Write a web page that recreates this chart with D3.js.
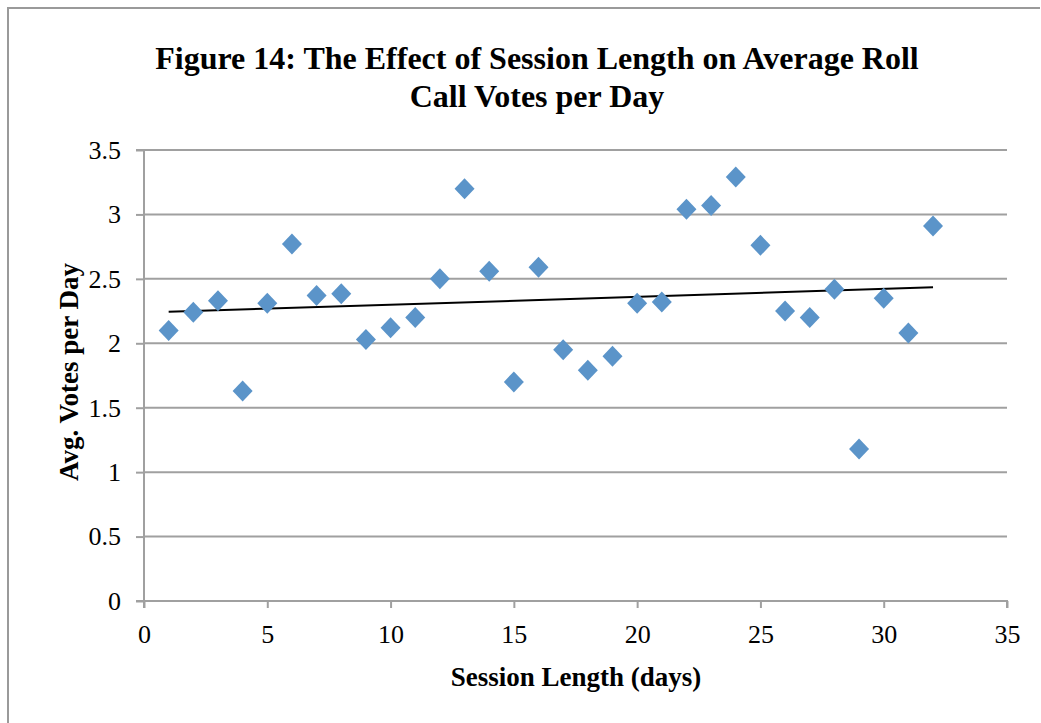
<!DOCTYPE html>
<html><head><meta charset="utf-8">
<script src="https://cdn.jsdelivr.net/npm/d3@7"></script>
<style>body{margin:0;background:#fff}svg{display:block}</style>
</head><body>
<script>
const sessionDays = [1,2,3,4,5,6,7,8,9,10,11,12,13,14,15,16,17,18,19,20,21,22,23,24,25,26,27,28,29,30,31,32];
const avgVotes = [2.10,2.24,2.33,1.63,2.31,2.77,2.37,2.385,2.03,2.12,2.20,2.50,3.20,2.56,1.70,2.59,1.95,1.79,1.90,2.31,2.32,3.04,3.07,3.29,2.76,2.25,2.20,2.42,1.18,2.35,2.08,2.91];
const xTicks = [0,5,10,15,20,25,30,35];
const yTicks = [0,0.5,1,1.5,2,2.5,3,3.5];
const titleLines = ["Figure 14: The Effect of Session Length on Average Roll","Call Votes per Day"];

const W=1041,H=723;
const svg=d3.select("body").append("svg").attr("width",W).attr("height",H);
svg.append("rect").attr("width",W).attr("height",H).attr("fill","#fff");
// outer border
svg.append("path").attr("d","M8,"+(H+2)+"V8H1040").attr("fill","none").attr("stroke","#9a9a9a").attr("stroke-width",2);

const L=144,R=1007,T=150,B=601;
const x=d3.scaleLinear().domain([0,35]).range([L,R]);
const y=d3.scaleLinear().domain([0,3.5]).range([B,T]);
const font="'Liberation Serif','Times New Roman',serif";

// gridlines
svg.append("g").selectAll("line").data(yTicks.filter(d=>d>0)).join("line")
  .attr("x1",L).attr("x2",R).attr("y1",d=>y(d)).attr("y2",d=>y(d))
  .attr("stroke","#a0a0a0").attr("stroke-width",2);

// axes
const gx=svg.append("g").attr("transform",`translate(0,${B})`)
  .call(d3.axisBottom(x).tickValues(xTicks).tickSize(7).tickPadding(17).tickFormat(d3.format("d")));
const gy=svg.append("g").attr("transform",`translate(${L},0)`)
  .call(d3.axisLeft(y).tickValues(yTicks).tickSize(8).tickPadding(15).tickFormat(d=>String(d)));
[gx,gy].forEach(g=>{
  g.select(".domain").attr("stroke","#a0a0a0").attr("stroke-width",2);
  g.selectAll(".tick line").attr("stroke","#a0a0a0").attr("stroke-width",2);
  g.selectAll("text").attr("font-family",font).attr("font-size",26).attr("fill","#000");
});
gy.select(".domain").attr("d",`M-8,${T}H0V${B}H-8`);
gx.select(".domain").attr("d",`M${L},7V0H${R}V7`);

// trendline via least squares
const n=sessionDays.length;
const mx=d3.mean(sessionDays), my=d3.mean(avgVotes);
let sxy=0,sxx=0;
for(let i=0;i<n;i++){sxy+=(sessionDays[i]-mx)*(avgVotes[i]-my);sxx+=(sessionDays[i]-mx)**2;}
const slope=sxy/sxx, icpt=my-slope*mx;
const x0=d3.min(sessionDays), x1=d3.max(sessionDays);
svg.append("line").attr("x1",x(x0)).attr("y1",y(icpt+slope*x0)).attr("x2",x(x1)).attr("y2",y(icpt+slope*x1))
  .attr("stroke","#000").attr("stroke-width",2);

// points
svg.append("g").selectAll("path").data(sessionDays.map((d,i)=>[d,avgVotes[i]])).join("path")
  .attr("transform",d=>`translate(${x(d[0])},${y(d[1])})`)
  .attr("d","M0,-10.5L10,0L0,10.5L-10,0Z").attr("fill","#5b94c9");

// titles
svg.append("text").attr("x",537).attr("font-family",font).attr("font-size",32).attr("font-weight","bold")
  .attr("text-anchor","middle").selectAll("tspan").data(titleLines).join("tspan")
  .attr("x",537).attr("y",(d,i)=>69+i*38).text(d=>d);
svg.append("text").attr("transform","translate(78,372) rotate(-90)").attr("text-anchor","middle")
  .attr("font-family",font).attr("font-size",27).attr("font-weight","bold").text("Avg. Votes per Day");
svg.append("text").attr("x",576).attr("y",686).attr("text-anchor","middle")
  .attr("font-family",font).attr("font-size",27).attr("font-weight","bold").text("Session Length (days)");
</script>
</body></html>
